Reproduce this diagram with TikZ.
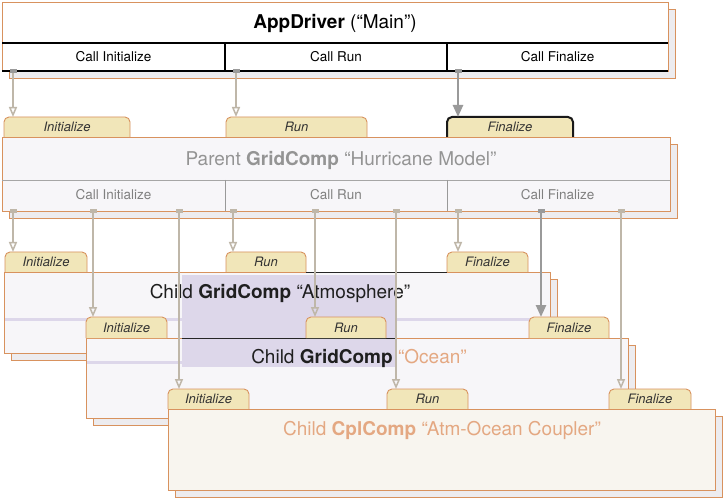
\documentclass[tikz,border=0pt]{standalone}
\usepackage{fontspec}
\setmainfont{TeX Gyre Heros}
\usetikzlibrary{arrows.meta,shadows}
\definecolor{tabfill}{HTML}{F1E6B9}
\definecolor{boxline}{HTML}{D8925E}
\definecolor{lav}{HTML}{DDD7EA}
\definecolor{shadowc}{HTML}{EDECEF}
\definecolor{arrowc}{HTML}{BFB7A9}
\definecolor{solidc}{HTML}{9A9A9A}
\definecolor{cplc}{HTML}{E4A882}
\definecolor{boxfill}{HTML}{F7F6F9}
\definecolor{cplfill}{HTML}{F8F5EF}
\newcommand\mytab[7]{%
  \path[fill=tabfill,draw=boxline,line width=0.9bp,rounded corners=5bp,#1]
    (#3,#6) -- (#3,#4) -- (#5,#4) -- (#5,#6);
  \node[tabtext,minimum width={(#5-#3)*1bp},minimum height={(#6-#4)*1bp}]
    (#2) at ({(#3+#5)/2},{(#4+#6)/2}) {#7};}
\newcommand\mybox[6]{%
  \node[boxshape,fill=#6,minimum width={(#4-#2)*1bp},minimum height={(#5-#3)*1bp},anchor=north west]
    (#1) at (#2,#3) {};}
\begin{document}
\begin{tikzpicture}[x=1bp,y=-1bp,
  boxshape/.style={draw=boxline,line width=0.9bp,inner sep=0pt,outer sep=0pt,
    general shadow={fill=shadowc,draw=boxline,line width=0.6bp,shadow xshift=7bp,shadow yshift=-7bp}},
  tabtext/.style={inner sep=0pt,outer sep=0pt,font=\fontsize{13bp}{15bp}\selectfont\itshape,text=black!80},
  calltext/.style={inner sep=0pt,font=\fontsize{13.5bp}{16bp}\selectfont},
  titletext/.style={inner sep=0pt,font=\fontsize{19bp}{22bp}\selectfont},
  nub/.style={fill=solidc,minimum width=7bp,minimum height=4bp,inner sep=0pt,outer sep=0pt},
  lightnub/.style={fill=arrowc,minimum width=7bp,minimum height=4bp,inner sep=0pt,outer sep=0pt},
  lightarrow/.style={draw=arrowc,line width=1.5bp,-{Triangle[open,length=10bp,width=8bp]}},
  solidarrow/.style={draw=solidc,line width=2.5bp,-{Triangle[length=12bp,width=10bp]}}]
\useasboundingbox (0,0) rectangle (723,498);
\fill[white] (0,0) rectangle (723,498);

% ---------- AppDriver ----------
\mybox{app}{2}{2}{668}{71}{white}
\draw[black,line width=1.2bp] (2,43) -- (668,43);
\draw[black,line width=1.2bp] (2,71) -- (668,71);
\draw[black,line width=2.2bp] (225,43) -- (225,71);
\draw[black,line width=2.2bp] (447,43) -- (447,71);
\node[titletext] (apptitle) at (335,23) {\textbf{AppDriver} (“Main”)};
\node[calltext] (aci) at (113.5,57) {Call Initialize};
\node[calltext] (acr) at (336,57) {Call Run};
\node[calltext] (acf) at (557.5,57) {Call Finalize};

% ---------- Parent tabs and box ----------
\mytab{}{ptI}{4}{117}{130}{137}{Initialize}
\mytab{}{ptR}{226}{117}{367}{137}{Run}
\mytab{draw=black!90,line width=2bp}{ptF}{447}{117}{573}{137}{Finalize}
\mybox{parent}{2}{137}{670}{211}{boxfill}
\draw[black!35,line width=0.9bp] (2,180) -- (670,180);
\draw[black!40,line width=1bp] (225,180) -- (225,211);
\draw[black!40,line width=1bp] (447,180) -- (447,211);
\node[titletext,text=black!42] (ptitle) at (341,160) {Parent \textbf{GridComp} “Hurricane Model”};
\node[calltext,text=black!50] (pci) at (113.5,195) {Call Initialize};
\node[calltext,text=black!50] (pcr) at (336,195) {Call Run};
\node[calltext,text=black!50] (pcf) at (557.5,195) {Call Finalize};

% ---------- Child Atmosphere ----------
\mytab{}{aI}{5}{252}{87}{272}{Initialize}
\mytab{}{aR}{226}{252}{306}{272}{Run}
\mytab{}{aF}{447}{252}{528}{272}{Finalize}
\mybox{atm}{4}{272}{550}{353}{boxfill}
\draw[lav,line width=3bp] (5,319) -- (549,319);

% ---------- Child Ocean ----------
\mybox{ocean}{86}{338}{628}{418}{boxfill}
\fill[lav] (182,275) rectangle (395,367);
\draw[black!85,line width=1bp] (182,338) -- (395,338);
\draw[black!85,line width=1bp] (306,272) -- (447,272);
\draw[lav,line width=3bp] (87,362) -- (182,362);
\mytab{}{oI}{86}{317}{167}{338}{Initialize}
\mytab{}{oR}{306}{317}{386}{338}{Run}
\mytab{}{oF}{529}{317}{609}{338}{Finalize}
\node[titletext,text=black!88] (atitle) at (280,293) {Child \textbf{GridComp} “Atmosphere”};
\node[titletext,text=black!88] (otitle) at (359,358) {Child \textbf{GridComp} \textcolor{cplc}{“Ocean”}};

% ---------- Child Coupler ----------
\mytab{}{cI}{168}{389}{249}{409}{Initialize}
\mytab{}{cR}{387}{389}{468}{409}{Run}
\mytab{}{cF}{609}{389}{691}{409}{Finalize}
\mybox{cpl}{168}{409}{715}{490}{cplfill}
\node[titletext,text=cplc] (ctitle) at (442,430) {Child \textbf{CplComp} “Atm-Ocean Coupler”};

% ---------- connectors from AppDriver ----------
\node[nub] (n1) at (13,71) {};
\node[nub] (n2) at (236,71) {};
\node[nub] (n3) at (458,71) {};
\draw[lightarrow] (n1.south) -- (n1.south |- ptI.north);
\draw[lightarrow] (n2.south) -- (n2.south |- ptR.north);
\draw[solidarrow] (n3.south) -- (n3.south |- ptF.north);

% ---------- connectors from Parent ----------
\node[lightnub] (p1) at (13,211) {};
\node[lightnub] (p2) at (93,211) {};
\node[lightnub] (p3) at (179,211) {};
\node[lightnub] (p4) at (233,211) {};
\node[lightnub] (p5) at (315,211) {};
\node[lightnub] (p6) at (396,211) {};
\node[lightnub] (p7) at (458,211) {};
\node[nub] (p8) at (541,211) {};
\node[lightnub] (p9) at (621,211) {};
\draw[lightarrow] (p1.south) -- (p1.south |- aI.north);
\draw[lightarrow] (p2.south) -- (p2.south |- oI.north);
\draw[lightarrow] (p3.south) -- (p3.south |- cI.north);
\draw[lightarrow] (p4.south) -- (p4.south |- aR.north);
\draw[lightarrow] (p5.south) -- (p5.south |- oR.north);
\draw[lightarrow] (p6.south) -- (p6.south |- cR.north);
\draw[lightarrow] (p7.south) -- (p7.south |- aF.north);
\draw[solidarrow] (p8.south) -- (p8.south |- oF.north);
\draw[lightarrow] (p9.south) -- (p9.south |- cF.north);
\end{tikzpicture}
\end{document}
